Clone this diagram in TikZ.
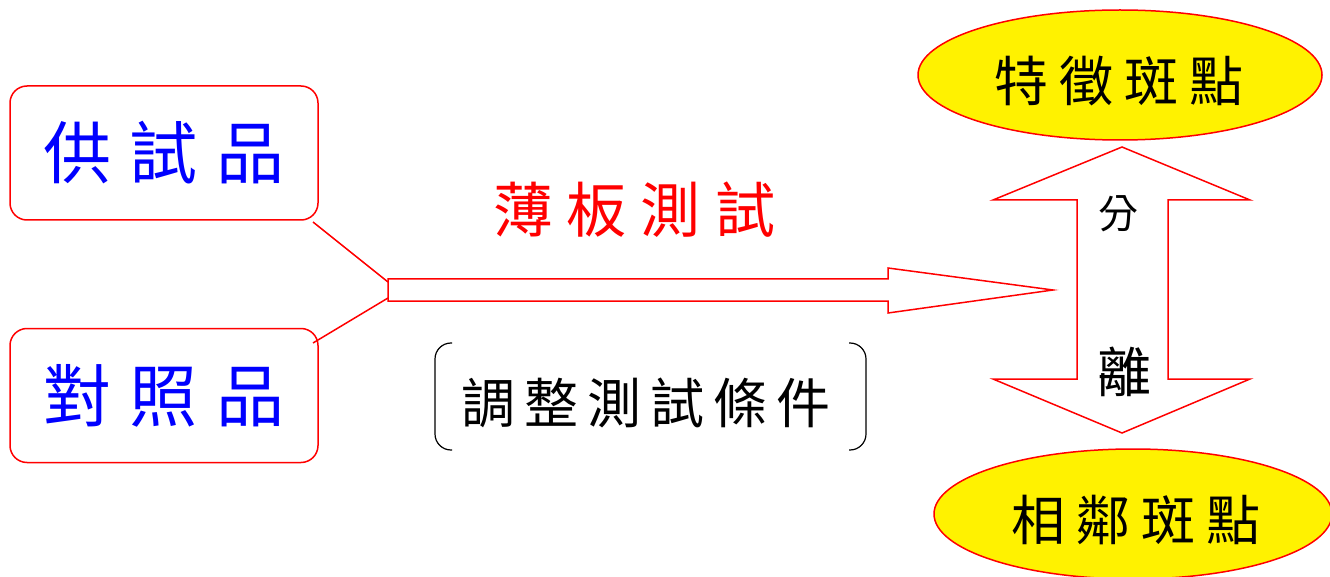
\documentclass[tikz,border=0pt]{standalone}
\usepackage{fontspec}
\newfontfamily\cjk{Noto Sans CJK TC}
\usetikzlibrary{shapes.geometric}
\tikzset{
  sample/.style={draw=red, line width=1.5pt, rounded corners=17pt, minimum width=308pt, minimum height=134pt, inner sep=0pt, text=blue},
  spot/.style={draw=red, fill=yellow, line width=1.5pt, ellipse, inner sep=0pt},
  redline/.style={draw=red, line width=1.5pt},
  lbl/.style={inner sep=0pt},
  brk/.style={draw=black, line width=1.2pt, rounded corners=16pt},
}
\begin{document}
\begin{tikzpicture}[x=1pt,y=-1pt]
\useasboundingbox (0,0) rectangle (1330,577);
\clip (0,0) rectangle (1330,577);
% sample boxes
\node[sample] (s1) at (164,153) {\cjk\fontsize{68}{72}\selectfont 供\hspace{19pt}試\hspace{19pt}品};
\node[sample] (s2) at (164,395.5) {\cjk\fontsize{68}{72}\selectfont 對\hspace{19pt}照\hspace{19pt}品};
% connectors
\coordinate (a1) at (313,222);
\coordinate (a2) at (313,343);
\coordinate (j1) at (388,282);
\coordinate (j2) at (388,298);
\draw[redline] (a1) -- (j1);
\draw[redline] (a2) -- (j2);
% big right arrow
\draw[redline, line join=miter] (388,279) -- (888,279) -- (888,268) -- (1053,290) coordinate (tip) -- (888,313) -- (888,301) -- (388,301) -- cycle;
% labels
\node[lbl, text=red] (tlc) at (634,210) {\cjk\fontsize{60}{64}\selectfont 薄\hspace{14pt}板\hspace{14pt}測\hspace{14pt}試};
\node[lbl] (cond) at (646,403) {\cjk\fontsize{54}{58}\selectfont 調\hspace{9pt}整\hspace{9pt}測\hspace{9pt}試\hspace{9pt}條\hspace{9pt}件};
% bracket pair
\draw[brk] (452,343) -- (435,343) -- (435,450) -- (452,450);
\draw[brk] (849,343) -- (866,343) -- (866,450) -- (849,450);
% double arrow
\draw[redline, line join=miter] (1122,147) -- (1250,200) -- (1168,200) -- (1168,379) -- (1250,379) -- (1122,433) -- (993,379) -- (1077,379) -- (1077,200) -- (993,200) -- cycle;
\node[lbl] (fen) at (1118,214) {\cjk\fontsize{40}{44}\selectfont 分};
\node[lbl] (li) at (1124,372) {\cjk\fontsize{54}{58}\selectfont 離};
% ellipses
\node[spot, minimum width=404pt, minimum height=130pt] (e1) at (1120,75) {};
\node[lbl] (t1) at (1119,81) {\cjk\fontsize{54}{58}\selectfont 特\hspace{11pt}徵\hspace{11pt}斑\hspace{11pt}點};
\node[spot, minimum width=398pt, minimum height=130pt] (e2) at (1133,514) {};
\node[lbl] (t2) at (1136,520) {\cjk\fontsize{54}{58}\selectfont 相\hspace{11pt}鄰\hspace{11pt}斑\hspace{11pt}點};
\end{tikzpicture}
\end{document}
